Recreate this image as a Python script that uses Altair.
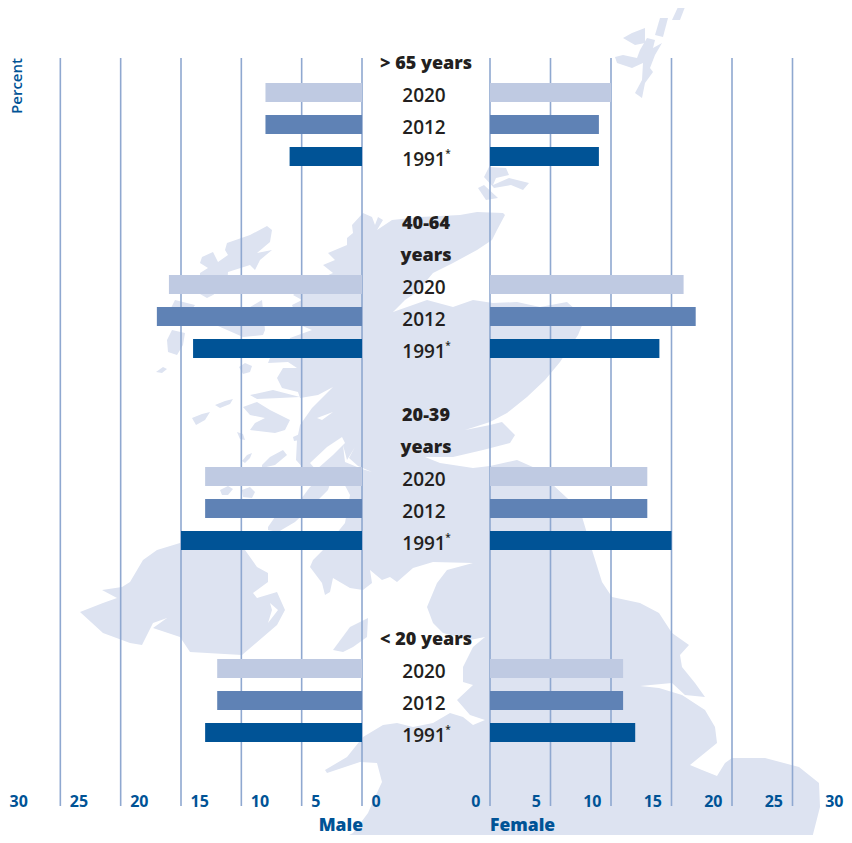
import altair as alt
import pandas as pd

# --- chart values ---
groups = ["> 65 years", "40-64 years", "20-39 years", "< 20 years"]
years = ["2020", "2012", "1991"]
male_2020 = [8, 16, 13, 12]
male_2012 = [8, 17, 13, 12]
male_1991 = [6, 14, 15, 13]
female_2020 = [10, 16, 13, 11]
female_2012 = [9, 17, 13, 11]
female_1991 = [9, 14, 15, 12]
bar_rows_2020 = [1, 7, 13, 19]
ticks = [0, 5, 10, 15, 20, 25, 30]
head_labels = ["> 65 years", "40-64", "years", "20-39", "years", "< 20 years"]
head_rows = [0, 5, 6, 11, 12, 18]

# --- background map outlines (x, y) ---
mainland = [(363,213),(372,217),(375,225),(378,217),(383,220),(377,230),(392,220),(420,217),(460,215),(477,212),
 (503,213),(505,215),(497,230),(492,240),(477,250),(453,263),(433,273),(417,292),(405,300),(393,312),(427,300),
 (453,307),(473,300),(493,303),(517,302),(540,307),(567,302),(585,318),(578,335),(560,362),(545,380),(527,397),
 (507,413),(490,422),(465,430),(490,425),(502,422),(515,435),(510,443),(483,450),(453,457),(425,457),(440,463),
 (473,468),(490,466),(517,460),(535,468),(553,485),(580,510),(592,550),(602,582),(612,597),(640,603),(659,613),
 (672,633),(689,645),(680,655),(682,667),(695,683),(705,697),(685,695),(672,683),(640,686),(659,688),(682,695),
 (705,710),(715,727),(717,743),(690,765),(702,770),(717,776),(725,763),(732,758),(765,758),(799,767),(819,783),
 (820,807),(809,850),(320,850),(353,833),(368,813),(375,797),(382,782),(377,763),(360,762),(327,773),(325,770),
 (347,757),(363,737),(383,725),(397,723),(413,727),(433,723),(450,713),(463,717),(473,725),(485,720),(470,715),
 (457,700),(473,685),(463,682),(463,667),(473,647),(485,637),(470,640),(443,633),(433,623),(427,607),(437,583),
 (447,570),(473,563),(433,562),(413,568),(397,582),(390,577),(382,580),(370,570),(372,583),(363,590),(350,588),
 (333,578),(330,592),(325,595),(322,583),(310,567),(313,560),(323,550),(345,523),(350,495),(340,476),(305,470),
 (296,460),(297,440),(300,425),(312,408),(333,387),(318,395),(300,398),(298,392),(282,388),(277,378),(283,368),
 (297,368),(288,362),(268,363),(270,358),(287,352),(290,338),(312,330),(300,325),(292,305),(302,300),(293,295),
 (305,285),(333,273),(323,265),(335,260),(328,253),(347,245),(347,238),(353,233),(352,225)]
ireland = [(80,612),(103,603),(117,598),(102,590),(122,587),(130,582),(143,560),(157,550),(180,543),(215,532),
 (245,550),(257,567),(268,573),(268,582),(253,593),(257,598),(277,592),(285,610),(277,625),(242,655),(190,652),
 (180,637),(153,628),(167,618),(153,623),(142,645),(130,643),(103,633)]
lewis = [(272,230),(267,226),(250,235),(227,243),(225,250),(228,255),(218,262),(213,252),(202,257),(200,263),
 (208,268),(200,273),(200,294),(207,298),(213,295),(227,285),(228,272),(250,265),(255,270),(260,260),(272,250),
 (257,253),(270,242)]
skye = [(218,326),(232,318),(262,300),(265,330),(263,335),(243,337)]
rum = [(239,367),(245,363),(252,366),(250,372),(243,374)]
uist = [(167,340),(172,330),(185,333),(183,345),(177,355),(168,352)]
barra = [(156,372),(163,367),(167,369),(162,373)]
harris = [(170,310),(175,300),(195,305),(190,312),(178,312)]
tiree = [(192,418),(202,414),(210,412),(205,420),(196,425)]
coll = [(215,405),(225,401),(233,399),(230,404),(220,408)]
mull = [(243,407),(257,402),(270,410),(290,420),(285,430),(275,433),(250,430),(255,423),(265,418),(250,415)]
ulva = [(250,395),(273,390),(300,397),(280,398),(257,399)]
iona = [(237,432),(243,434),(245,440),(240,439)]
lismore = [(293,437),(302,433),(300,440),(294,441)]
jura = [(262,465),(270,457),(283,450),(287,455),(275,465),(262,468)]
colonsay = [(242,461),(247,455),(252,453),(250,458),(245,463)]
islay1 = [(220,490),(228,486),(233,489),(228,495),(222,495)]
islay2 = [(242,490),(250,487),(255,492),(252,498),(243,497)]
kintyre = [(268,527),(275,517),(295,507),(310,487),(322,478),(333,475),(328,490),(313,505),(295,522),(278,532),(268,530)]
man = [(333,650),(350,627),(368,618),(367,637),(353,647),(343,652)]
shetland_main = [(642,98),(635,93),(642,80),(643,63),(632,68),(617,63),(615,57),(623,55),(637,58),(640,50),(647,38),
 (655,40),(653,48),(662,43),(655,55),(650,68),(653,72),(645,83)]
shetland_west = [(623,38),(632,33),(645,28),(645,43),(635,45)]
yell = [(655,35),(660,18),(668,18),(663,37)]
unst = [(672,20),(678,7),(685,7),(680,20)]
orkney_a = [(484,177),(489,167),(506,168),(509,175),(496,178),(493,185),(509,178),(529,183),(523,190),(511,185),(494,188)]
orkney_b = [(478,188),(484,185),(498,198),(486,200)]
land_parts = [mainland, ireland, lewis, skye, rum, uist, barra, harris, tiree, coll, mull, ulva, iona, lismore, jura,
              colonsay, islay1, islay2, kintyre, man, shetland_main, shetland_west, yell, unst, orkney_a, orkney_b]

loch_clyde = [(342,437),(327,447),(310,463),(316,470),(333,455),(345,443)]
loch_k = [(343,445),(347,460),(355,447),(349,458),(358,466),(372,472),(362,469),(345,462)]
loch_etive = [(317,418),(333,412),(322,420)]
strangford = [(270,603),(278,610),(268,623),(272,610)]
water_parts = [loch_clyde, loch_k, loch_etive, strangford]


def features(parts):
    return [{"type": "Feature", "properties": {},
             "geometry": {"type": "Polygon",
                          "coordinates": [[list(p) for p in part] + [list(part[0])]]}} for part in parts]


BLUE = "#005396"
INK = "#231F20"
GRID = "#8FA8D0"
LAND = "#DDE3F1"
FONT = "Open Sans"
W, H = 836, 827

proj = dict(type="identity", scale=1, translate=[-8, -8])
land = alt.Chart(alt.Data(values=features(land_parts))).mark_geoshape(fill=LAND, strokeWidth=0).project(**proj)
water = alt.Chart(alt.Data(values=features(water_parts))).mark_geoshape(fill="white", strokeWidth=0).project(**proj)

rows = []
for g, b, m20, m12, m91, f20, f12, f91 in zip(groups, bar_rows_2020, male_2020, male_2012, male_1991,
                                              female_2020, female_2012, female_1991):
    for k, (y, m, f) in enumerate(zip(years, (m20, m12, m91), (f20, f12, f91))):
        rows.append({"group": g, "year": y, "row": b + k, "male": m, "female": f})
bars = pd.DataFrame(rows)

left_scale = alt.Scale(domain=[30, 0], range=[-8, 354], padding=0, nice=False)
right_scale = alt.Scale(domain=[0, 30], range=[482, 845], padding=0, nice=False)
row_scale = alt.Scale(domain=[0, 21], range=[52.5, 724.5], padding=0, nice=False, zero=False)
color = alt.Color("year:N", legend=None,
                  scale=alt.Scale(domain=years, range=["#BFCAE2", "#5F82B5", BLUE]))
tick_df = pd.DataFrame({"t": ticks})

axis_common = dict(orient="bottom", offset=-(H - 785), domain=False, ticks=False, grid=False, title=None, values=ticks,
                   labelFont=FONT, labelFontSize=16, labelFontWeight=700, labelColor=BLUE, labelPadding=0,
                   labelBaseline="top", labelOverlap=False, labelFlush=False, labelBound=False, zindex=1)


def grid(field_scale, axis):
    return alt.Chart(tick_df).mark_rule(color=GRID, strokeWidth=1.6).encode(
        x=alt.X("t:Q", scale=field_scale, axis=axis),
        y=alt.value(50), y2=alt.value(798))


left_grid = grid(left_scale, alt.Axis(labelAlign="left", labelOffset=9, **axis_common))
right_grid = grid(right_scale, alt.Axis(labelAlign="right", labelOffset=-10, **axis_common))


def bar_layer(field, scale):
    return alt.Chart(bars).mark_bar(size=19, orient="horizontal").encode(
        x=alt.X(f"{field}:Q", scale=scale, axis=None),
        y=alt.Y("row:Q", scale=row_scale, axis=None),
        color=color)


left_bars = bar_layer("male", left_scale)
right_bars = bar_layer("female", right_scale)

heads = pd.DataFrame({"label": head_labels, "row": head_rows})
head_text = alt.Chart(heads).mark_text(font=FONT, fontSize=18, fontWeight=800, color=INK, dy=3.5, align="center",
                                       baseline="middle").encode(
    x=alt.value(418), y=alt.Y("row:Q", scale=row_scale, axis=None), text="label:N")

year_text = alt.Chart(bars).mark_text(font=FONT, fontSize=19, fontWeight=600, color=INK, dy=3.5, align="center",
                                      baseline="middle").encode(
    x=alt.value(416), y=alt.Y("row:Q", scale=row_scale, axis=None), text="year:N")
star_text = alt.Chart(bars[bars["year"] == "1991"].assign(star="*")).mark_text(
    font=FONT, fontSize=10, fontWeight=600, color=INK, dy=-3, align="center", baseline="middle").encode(
    x=alt.value(440), y=alt.Y("row:Q", scale=row_scale, axis=None), text="star:N")

percent = alt.Chart(pd.DataFrame({"label": ["Percent"]})).mark_text(
    font=FONT, fontSize=15, fontWeight=600, color=BLUE, angle=270, align="center", baseline="middle").encode(
    x=alt.value(9), y=alt.value(78), text="label:N")
male_lab = alt.Chart(pd.DataFrame({"label": ["Male"], "v": [0]})).mark_text(
    font=FONT, fontSize=17.5, fontWeight=800, color=BLUE, align="right", baseline="middle", dx=1).encode(
    x=alt.X("v:Q", scale=left_scale, axis=None), y=alt.value(H - 9), text="label:N")
female_lab = alt.Chart(pd.DataFrame({"label": ["Female"], "v": [0]})).mark_text(
    font=FONT, fontSize=17.5, fontWeight=800, color=BLUE, align="left", baseline="middle").encode(
    x=alt.X("v:Q", scale=right_scale, axis=None), y=alt.value(H - 9), text="label:N")

chart = alt.layer(land, water, left_grid, right_grid, left_bars, right_bars, head_text, year_text, star_text,
                  percent, male_lab, female_lab).resolve_scale(x="independent", color="shared").properties(
    width=W, height=H, padding=0, autosize=alt.AutoSizeParams(type="none")
).configure_view(stroke=None)

chart.save("out.html", embed_options={"renderer": "svg", "actions": False})
